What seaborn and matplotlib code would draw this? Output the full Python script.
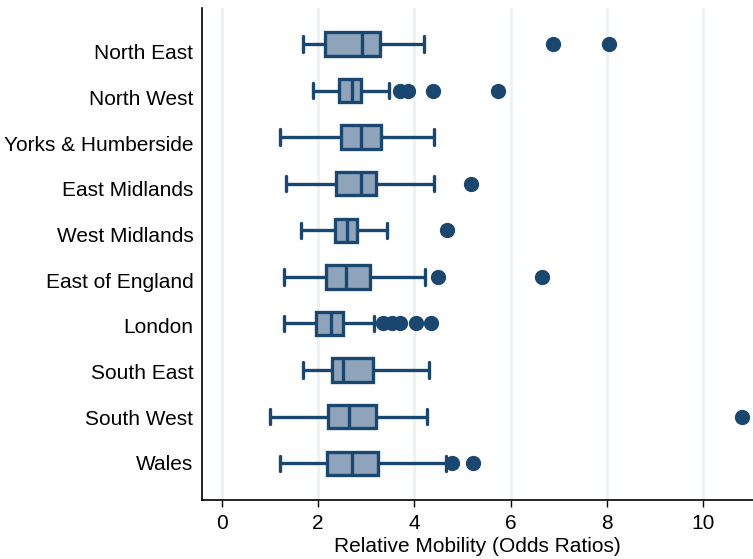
import numpy as np
import pandas as pd
import matplotlib
matplotlib.use('Agg')
import matplotlib.pyplot as plt
import seaborn as sns

regions = ['North East', 'North West', 'Yorks & Humberside', 'East Midlands',
           'West Midlands', 'East of England', 'London', 'South East',
           'South West', 'Wales']
whisk_lo = [1.68, 1.89, 1.21, 1.34, 1.65, 1.29, 1.29, 1.68, 0.99, 1.21]
q1 = [2.15, 2.43, 2.47, 2.36, 2.34, 2.16, 1.96, 2.29, 2.21, 2.18]
median = [2.92, 2.70, 2.88, 2.90, 2.60, 2.58, 2.27, 2.51, 2.65, 2.70]
q3 = [3.29, 2.90, 3.31, 3.20, 2.80, 3.08, 2.51, 3.13, 3.21, 3.24]
whisk_hi = [4.21, 3.47, 4.40, 4.40, 3.44, 4.23, 3.17, 4.30, 4.26, 4.66]

# outside values
out_region = ['North East', 'North East',
              'North West', 'North West', 'North West', 'North West',
              'East Midlands', 'West Midlands',
              'East of England', 'East of England',
              'London', 'London', 'London', 'London', 'London',
              'South West', 'Wales', 'Wales']
out_value = [6.89, 8.05,
             3.71, 3.86, 4.39, 5.74,
             5.18, 4.68,
             4.50, 6.65,
             3.35, 3.53, 3.70, 4.04, 4.35,
             10.81, 4.78, 5.22]

navy = '#1A476F'
fill = '#8FA4BB'

# five summary points per region -> box + whiskers
rows = []
for i, r in enumerate(regions):
    for v in (whisk_lo[i], q1[i], median[i], q3[i], whisk_hi[i]):
        rows.append((r, v))
df = pd.DataFrame(rows, columns=['region', 'odds'])
out_df = pd.DataFrame({'region': out_region, 'odds': out_value})

sns.set_style('white')
plt.rcParams['font.family'] = ['Liberation Sans', 'DejaVu Sans']

fig = plt.figure(figsize=(7.53, 5.59), dpi=100)
ax = fig.add_axes([0.268, 0.1055, 0.732, 0.88])

sns.boxplot(data=df, x='odds', y='region', order=regions, ax=ax,
            whis=(0, 100), width=0.5, color=fill, saturation=1,
            linecolor=navy, linewidth=2.4, showfliers=False,
            capwidths=0.33)
sns.stripplot(data=out_df, x='odds', y='region', order=regions, ax=ax,
              jitter=False, color=navy, size=11, linewidth=0)

ax.set_xlim(-0.42, 11.04)
ax.set_ylim(9.79, -0.77)
ax.set_xticks(range(0, 11, 2))
# stata places the category labels on a slightly tighter spacing than the boxes
ax.set_yticks(0.17 + np.arange(len(regions)) * 0.98, regions)
ax.grid(axis='x', color='#EAF2F3', lw=2)
ax.grid(axis='y', visible=False)
ax.set_axisbelow(True)

for s in ['top', 'right']:
    ax.spines[s].set_visible(False)
for s in ['left', 'bottom']:
    ax.spines[s].set_color('black')
    ax.spines[s].set_linewidth(1.2)

ax.tick_params(axis='x', length=5, width=1, direction='out', labelsize=15,
               bottom=True, pad=5, color='black', labelcolor='black')
ax.tick_params(axis='y', length=0, pad=6, labelsize=15, labelcolor='black')
ax.set_xlabel('Relative Mobility (Odds Ratios)', fontsize=15, labelpad=3,
              color='black')
ax.set_ylabel('')

fig.savefig('out.png', dpi=100)
